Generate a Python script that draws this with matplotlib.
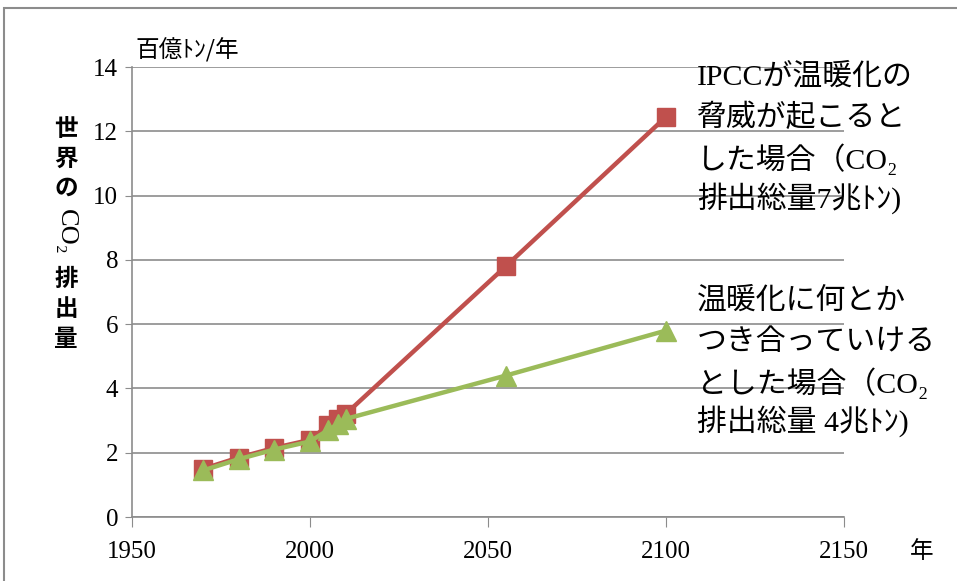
import matplotlib
matplotlib.use("Agg")
import matplotlib.pyplot as plt
from matplotlib.patches import Rectangle

plt.rcParams['font.family'] = ['Noto Sans CJK JP', 'DejaVu Sans']

years_ipcc = [1970, 1980, 1990, 2000, 2005, 2008, 2010, 2055, 2100]
co2_ipcc = [1.5, 1.85, 2.15, 2.4, 2.85, 3.05, 3.2, 7.8, 12.45]
years_adapt = [1970, 1980, 1990, 2000, 2005, 2008, 2010, 2055, 2100]
co2_adapt = [1.45, 1.8, 2.1, 2.35, 2.7, 2.9, 3.05, 4.4, 5.8]

x_ticks = [1950, 2000, 2050, 2100, 2150]
y_ticks = [0, 2, 4, 6, 8, 10, 12, 14]

red = '#C0504D'
green = '#9BBB59'
grid = '#8C8C8C'
serif_cjk = ['Liberation Serif', 'Noto Sans CJK JP', 'DejaVu Sans']

fig = plt.figure(figsize=(9.57, 5.81), dpi=100)
fig.patches.append(Rectangle((4/957, -0.1), 1.2, 1 - 8/581 + 0.1, transform=fig.transFigure,
                             fill=False, edgecolor='#8C8C8C', linewidth=1.5))
ax = fig.add_axes([132/957, 1 - 517/581, (844 - 132)/957, (517 - 67)/581])

ax.plot(years_ipcc, co2_ipcc, color=red, lw=3.2, marker='s', ms=13, mec=red, mfc=red, zorder=3)
ax.plot(years_adapt, co2_adapt, color=green, lw=3.2, marker='^', ms=14, mec=green, mfc=green, zorder=4)

ax.set_xlim(1950, 2150)
ax.set_ylim(0, 14)
ax.set_xticks(x_ticks)
ax.set_yticks(y_ticks)
ax.set_xticklabels([str(v) for v in x_ticks], fontfamily='Liberation Serif', fontsize=18)
ax.set_yticklabels([str(v) for v in y_ticks], fontfamily='Liberation Serif', fontsize=18)
ax.yaxis.grid(True, color=grid, lw=1.2)
ax.set_axisbelow(True)
for s in ['top', 'right']:
    ax.spines[s].set_visible(False)
for s in ['left', 'bottom']:
    ax.spines[s].set_color(grid)
    ax.spines[s].set_linewidth(1.2)
ax.tick_params(axis='x', direction='out', length=7, color=grid, pad=10)
ax.tick_params(axis='y', direction='out', length=5, color=grid, pad=5)

def fy(p):
    return 1 - p/581

# unit label
fig.text(135/957, fy(50), '百億ﾄﾝ/年', fontsize=17, va='center', ha='left')
# x unit
fig.text(922/957, fy(552), '年', fontsize=17, va='center', ha='center')

# vertical y label (vertical writing; latin part turned)
xc = 66/957
for ch, py in [('世', 129), ('界', 159), ('の', 188), ('排', 279), ('出', 309), ('量', 339)]:
    fig.text(xc, fy(py), ch, fontsize=17, ha='center', va='center', fontweight='bold')
fig.text(xc, fy(232), 'CO₂', fontsize=19, ha='center', va='center', rotation=270,
         family=serif_cjk)

# annotations
lines1 = ['IPCCが温暖化の', '脅威が起こると', 'した場合（CO₂', '排出総量7兆ﾄﾝ)']
for t, py in zip(lines1, [77, 118, 159, 198]):
    fig.text(697/957, fy(py), t, fontsize=21.5, ha='left', va='center', family=serif_cjk)
lines2 = ['温暖化に何とか', 'つき合っていける', 'とした場合（CO₂', '排出総量 4兆ﾄﾝ)']
for t, py in zip(lines2, [301, 343, 383, 421]):
    fig.text(697/957, fy(py), t, fontsize=21.5, ha='left', va='center', family=serif_cjk)

fig.savefig('out.png', dpi=100)
